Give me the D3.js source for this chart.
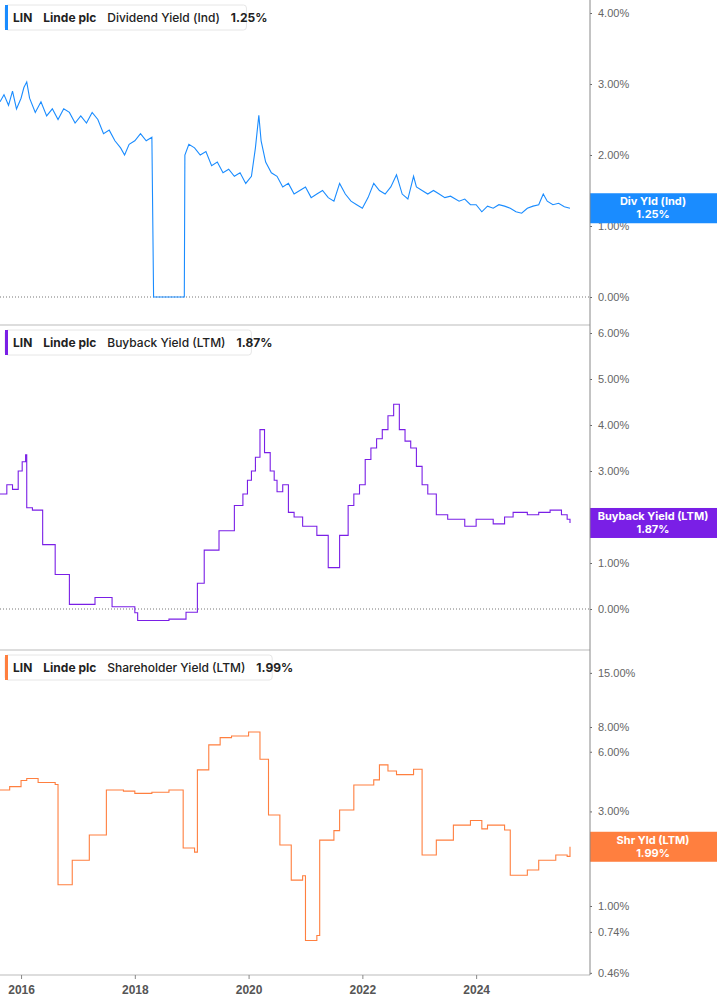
<!DOCTYPE html><html><head><meta charset="utf-8">
<script src="https://cdn.jsdelivr.net/npm/d3@7"></script>
<style>body{margin:0;background:#fff;font-family:Inter,"Noto Sans",sans-serif}</style></head><body>
<svg id="c" width="717" height="1005"></svg>
<script>
const yearTicks=[2016,2018,2020,2022,2024];
const divTicks=[0,1,2,3,4];
const bbTicks=[0,1,2,3,4,5,6];
const shrTicks=[0.46,0.74,1,2,3,6,8,15];
const divData=[[2015.63,2.75],[2015.7,2.85],[2015.78,2.7],[2015.85,2.9],[2015.92,2.65],[2016.0,2.8],[2016.05,2.95],[2016.1,3.03],[2016.15,2.8],[2016.25,2.6],[2016.35,2.75],[2016.45,2.55],[2016.55,2.65],[2016.65,2.5],[2016.75,2.65],[2016.85,2.6],[2016.95,2.45],[2017.05,2.55],[2017.15,2.45],[2017.25,2.6],[2017.35,2.5],[2017.45,2.3],[2017.55,2.35],[2017.65,2.2],[2017.75,2.1],[2017.82,2.0],[2017.9,2.15],[2018.0,2.2],[2018.1,2.3],[2018.2,2.2],[2018.3,2.25],[2018.33,0],[2018.87,0],[2018.88,2.0],[2018.95,2.15],[2019.05,2.1],[2019.15,2.0],[2019.25,2.05],[2019.35,1.85],[2019.45,1.9],[2019.55,1.75],[2019.65,1.8],[2019.75,1.7],[2019.85,1.75],[2019.95,1.6],[2020.05,1.7],[2020.12,2.1],[2020.18,2.56],[2020.22,2.2],[2020.3,1.9],[2020.4,1.75],[2020.5,1.7],[2020.6,1.55],[2020.7,1.6],[2020.8,1.45],[2020.9,1.5],[2021.0,1.55],[2021.1,1.4],[2021.2,1.45],[2021.3,1.5],[2021.4,1.4],[2021.5,1.35],[2021.6,1.6],[2021.7,1.45],[2021.8,1.35],[2021.9,1.3],[2022.0,1.25],[2022.1,1.4],[2022.2,1.6],[2022.3,1.5],[2022.4,1.45],[2022.5,1.55],[2022.6,1.72],[2022.7,1.45],[2022.8,1.38],[2022.9,1.7],[2022.95,1.55],[2023.05,1.5],[2023.15,1.45],[2023.25,1.5],[2023.35,1.45],[2023.45,1.4],[2023.55,1.42],[2023.7,1.35],[2023.8,1.38],[2023.9,1.3],[2024.0,1.3],[2024.1,1.2],[2024.2,1.28],[2024.3,1.25],[2024.4,1.3],[2024.5,1.28],[2024.6,1.25],[2024.7,1.2],[2024.8,1.18],[2024.9,1.25],[2025.0,1.28],[2025.1,1.3],[2025.18,1.45],[2025.25,1.35],[2025.35,1.3],[2025.45,1.32],[2025.55,1.27],[2025.65,1.25]];
const bbData=[[2015.63,2.5],[2015.75,2.7],[2015.85,2.6],[2015.95,3.0],[2016.02,3.2],[2016.08,3.35],[2016.1,2.2],[2016.2,2.15],[2016.38,1.4],[2016.6,0.75],[2016.85,0.1],[2017.3,0.25],[2017.6,0.05],[2018.0,-0.08],[2018.05,-0.25],[2018.6,-0.22],[2018.9,-0.07],[2019.1,0.56],[2019.22,1.28],[2019.48,1.7],[2019.75,2.25],[2019.9,2.5],[2019.98,2.8],[2020.05,3.0],[2020.12,3.3],[2020.2,3.9],[2020.28,3.4],[2020.38,3.0],[2020.45,2.8],[2020.5,2.55],[2020.6,2.7],[2020.7,2.1],[2020.8,2.0],[2020.95,1.8],[2021.2,1.6],[2021.4,0.9],[2021.6,1.6],[2021.75,2.25],[2021.85,2.5],[2021.95,2.7],[2022.05,3.25],[2022.15,3.5],[2022.25,3.7],[2022.35,3.9],[2022.45,4.2],[2022.55,4.45],[2022.65,3.9],[2022.75,3.65],[2022.85,3.5],[2022.95,3.1],[2023.05,2.7],[2023.15,2.5],[2023.3,2.05],[2023.5,1.95],[2023.8,1.8],[2024.0,1.95],[2024.3,1.85],[2024.5,2.0],[2024.65,2.1],[2024.9,2.05],[2025.1,2.1],[2025.3,2.15],[2025.5,2.05],[2025.6,1.95],[2025.65,1.87]];
const shrData=[[2015.63,3.85],[2015.8,4.0],[2016.0,4.3],[2016.1,4.4],[2016.3,4.2],[2016.6,4.1],[2016.65,1.28],[2016.9,1.7],[2017.2,2.28],[2017.5,3.85],[2017.8,3.8],[2018.0,3.7],[2018.3,3.75],[2018.6,3.85],[2018.85,1.96],[2019.05,1.87],[2019.1,4.86],[2019.3,6.5],[2019.5,7.07],[2019.7,7.2],[2020.0,7.55],[2020.2,5.5],[2020.35,2.88],[2020.55,2.03],[2020.75,1.35],[2020.95,1.42],[2021.0,0.67],[2021.2,0.71],[2021.25,2.15],[2021.5,2.4],[2021.6,3.05],[2021.85,4.08],[2022.2,4.33],[2022.3,5.15],[2022.45,4.8],[2022.6,4.6],[2022.9,4.9],[2023.05,1.81],[2023.3,2.15],[2023.6,2.56],[2023.9,2.7],[2024.1,2.45],[2024.2,2.56],[2024.5,2.42],[2024.6,1.43],[2024.9,1.52],[2025.1,1.7],[2025.4,1.81],[2025.6,1.78],[2025.65,1.99]];

const svg=d3.select("#c");
const axX=590;
const x=d3.scaleLinear().domain([2015.63,2025.65]).range([0,570]);
const panels=[
 {data:divData,color:"#1a8cff",top:0,bot:325,y:d3.scaleLinear().domain([0,4]).range([297,13]),ticks:divTicks,curve:d3.curveLinear,
  leg:["LIN","Linde plc","Dividend Yield (Ind)","1.25%"],lab:"Div Yld (Ind)",val:1.25,zero:true},
 {data:bbData,color:"#7a1fe6",top:325,bot:650,y:d3.scaleLinear().domain([0,6]).range([609,333]),ticks:bbTicks,curve:d3.curveStepAfter,
  leg:["LIN","Linde plc","Buyback Yield (LTM)","1.87%"],lab:"Buyback Yield (LTM)",val:1.87,zero:true},
 {data:shrData,color:"#ff7f3f",top:650,bot:975,y:d3.scaleLog().domain([1,8]).range([906,727]),ticks:shrTicks,curve:d3.curveStepAfter,
  leg:["LIN","Linde plc","Shareholder Yield (LTM)","1.99%"],lab:"Shr Yld (LTM)",val:1.99,zero:false}
];
const fmt=v=>v.toFixed(2)+"%";
panels.forEach(p=>{
  svg.append("line").attr("x1",0).attr("x2",axX).attr("y1",p.bot).attr("y2",p.bot).attr("stroke","#bbb");
  const ax=svg.append("g").attr("transform",`translate(${axX},0)`).call(d3.axisRight(p.y).tickValues(p.ticks).tickFormat(fmt).tickSize(2).tickPadding(6));
  ax.select(".domain").remove();
  ax.selectAll("text").attr("fill","#666").attr("font-size",11);
  ax.selectAll("line").attr("stroke","#666");
  if(p.zero) svg.append("line").attr("x1",0).attr("x2",axX).attr("y1",p.y(0)).attr("y2",p.y(0)).attr("stroke","#777").attr("stroke-dasharray","1,2");
  svg.append("path").datum(p.data).attr("fill","none").attr("stroke",p.color).attr("stroke-width",1.1)
    .attr("d",d3.line().x(d=>x(d[0])).y(d=>p.y(d[1])).curve(p.curve));
  // legend
  const g=svg.append("g").attr("transform",`translate(5,${p.top+5})`);
  const t=g.append("text").attr("y",17).attr("font-size",12).attr("fill","#222");
  const xs=[8,37,99,null];
  t.append("tspan").attr("x",8).attr("font-weight",700).text(p.leg[0]);
  t.append("tspan").attr("dx",11).attr("font-weight",700).text(p.leg[1]);
  t.append("tspan").attr("dx",11).attr("font-weight",500).text(p.leg[2]);
  t.append("tspan").attr("dx",11).attr("font-weight",700).text(p.leg[3]);
  const w=t.node().getComputedTextLength()+20;
  g.insert("rect","text").attr("width",w).attr("height",25).attr("rx",3).attr("fill","#fff").attr("stroke","#e6e6e6");
  g.insert("rect","text").attr("x",0).attr("y",0).attr("width",3).attr("height",25).attr("fill",p.color);
  // value label
  const vy=p.y(p.val);
  svg.append("rect").attr("x",axX).attr("y",vy-15).attr("width",127).attr("height",30).attr("fill",p.color);
  svg.append("text").attr("x",axX+63).attr("y",vy-3).attr("text-anchor","middle").attr("fill","#fff").attr("font-size",11).attr("font-weight",700).text(p.lab);
  svg.append("text").attr("x",axX+63).attr("y",vy+10).attr("text-anchor","middle").attr("fill","#fff").attr("font-size",11).attr("font-weight",700).text(fmt(p.val));
});
svg.append("line").attr("x1",axX).attr("x2",axX).attr("y1",0).attr("y2",975).attr("stroke","#888");
const xa=svg.append("g").attr("transform","translate(0,975)").call(d3.axisBottom(x).tickValues(yearTicks).tickFormat(d3.format("d")).tickSize(4).tickPadding(6));
xa.select(".domain").remove();
xa.selectAll("text").attr("fill","#555").attr("font-size",12).attr("font-weight",600);
xa.selectAll("line").attr("stroke","#888");
</script></body></html>
